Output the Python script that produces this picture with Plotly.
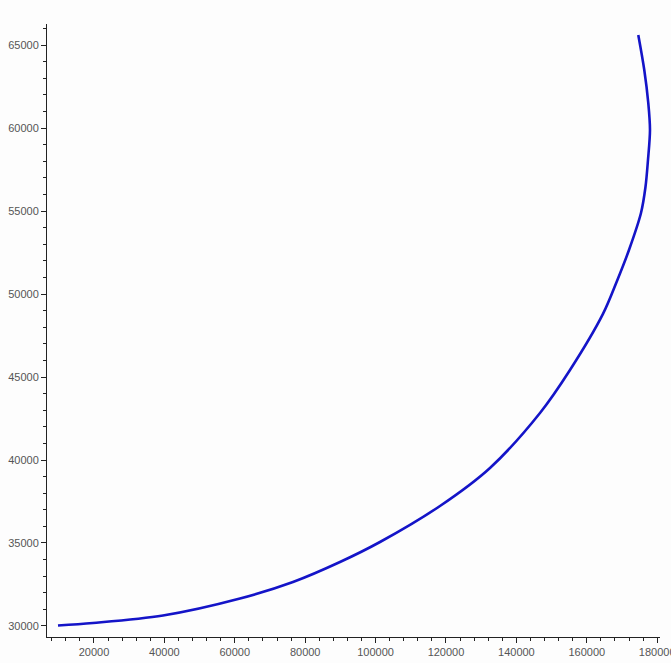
import plotly.graph_objects as go

# Sampled points along the curve
x_vals = [9773, 19716, 39602, 61477, 76535, 89887, 101250, 118295, 132500,
          146705, 155228, 164602, 168580, 171988, 175397, 176675, 177386,
          177954, 177471, 176334, 174630]
y_vals = [30030, 30181, 30633, 31657, 32651, 33855, 35060, 37230, 39520,
          42831, 45421, 48800, 50783, 52650, 54879, 56446, 58072,
          59880, 61506, 63494, 65602]

x_ticks = [20000, 40000, 60000, 80000, 100000, 120000, 140000, 160000, 180000]
y_ticks = [30000, 35000, 40000, 45000, 50000, 55000, 60000, 65000]

fig = go.Figure()
fig.add_trace(go.Scatter(
    x=x_vals, y=y_vals, mode="lines",
    line=dict(color="#1414c8", width=2.6, shape="spline", smoothing=0.9),
    hoverinfo="skip", showlegend=False,
))

axis_common = dict(
    showgrid=False, zeroline=False, showline=True, linecolor="#222222",
    linewidth=1, ticks="outside", ticklen=5, tickcolor="#222222",
    automargin=False,
    tickfont=dict(family="Liberation Sans, Arial, sans-serif", size=11,
                  color="#555555"),
)

fig.update_xaxes(
    range=[6650, 180800], tickvals=x_ticks,
    ticktext=[str(v) for v in x_ticks],
    ticklabeloverflow="allow",
    minor=dict(dtick=4000, tick0=0, ticks="outside", ticklen=3,
               tickcolor="#222222"),
    **axis_common,
)
fig.update_yaxes(
    range=[29337, 66265], tickvals=y_ticks,
    ticktext=[str(v) for v in y_ticks],
    minor=dict(dtick=1000, tick0=0, ticks="outside", ticklen=3,
               tickcolor="#222222"),
    **axis_common,
)

fig.update_layout(
    width=671, height=663,
    margin=dict(l=47, r=11, t=24, b=26),
    paper_bgcolor="#fdfdfd", plot_bgcolor="#fdfdfd",
)

fig.write_html("out.html")
